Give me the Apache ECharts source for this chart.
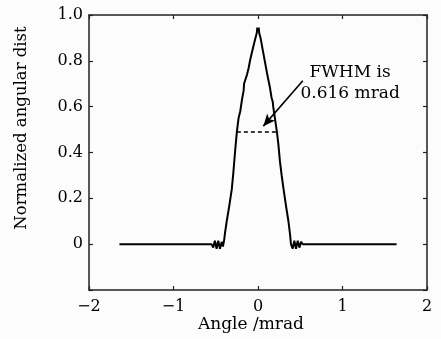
<!DOCTYPE html>
<html>
<head>
<meta charset="utf-8">
<script src="https://cdn.jsdelivr.net/npm/echarts@6/dist/echarts.min.js"></script>
<style>
  html, body { margin: 0; padding: 0; background: #fcfcfc; }
  #chart { width: 441px; height: 339px; }
</style>
</head>
<body>
<div id="chart"></div>
<script>
// angle (mrad) / normalized value
const angle = [
  -1.64, -0.55, -0.53, -0.51, -0.49, -0.47, -0.45, -0.43, -0.415,
  -0.40, -0.39, -0.37, -0.34, -0.31, -0.29, -0.27, -0.25, -0.23,
  -0.21, -0.19, -0.17, -0.165, -0.13, -0.11, -0.095, -0.07, -0.05, -0.03,
  -0.015, -0.008, 0.0, 0.008, 0.015, 0.03, 0.05, 0.08, 0.11, 0.14, 0.16,
  0.175, 0.18, 0.20, 0.22, 0.24, 0.26, 0.28, 0.30, 0.33, 0.36, 0.38,
  0.39, 0.41, 0.43, 0.45, 0.47, 0.49, 0.51, 0.53, 1.64
];
const dist = [
  0, 0, -0.015, 0.015, -0.02, 0.015, -0.02, 0.01, -0.01,
  0.02, 0.05, 0.10, 0.167, 0.24, 0.32, 0.41, 0.49, 0.55,
  0.58, 0.63, 0.67, 0.70, 0.74, 0.77, 0.80, 0.84, 0.87, 0.90,
  0.92, 0.945, 0.93, 0.945, 0.92, 0.90, 0.86, 0.80, 0.74, 0.686, 0.64,
  0.62, 0.60, 0.55, 0.50, 0.44, 0.36, 0.30, 0.247, 0.17, 0.10, 0.04,
  0.0, -0.02, 0.015, -0.02, 0.015, -0.015, 0.01, 0, 0
];
const xTicks = [-2, -1, 0, 1, 2];
const yTicks = [0, 0.2, 0.4, 0.6, 0.8, 1.0];
const fwhmLine = [[-0.25, 0.49], [0.25, 0.49]];
const arrowLine = [[0.53, 0.713], [0.063, 0.515]];
const noteText = 'FWHM is\n0.616 mrad';
const notePos = [1.09, 0.705];

const font = 'DejaVu Serif';
const ink = '#000';

const chart = echarts.init(document.getElementById('chart'));

const fmtX = v => (xTicks.includes(v) ? String(v).replace('-', '\u2212') : '');
const fmtY = v => {
  if (v < -0.01) return '';
  return Math.abs(v) < 1e-9 ? '0' : v.toFixed(1);
};

const axisCommon = {
  axisLine: { show: true, onZero: false, lineStyle: { color: '#222', width: 1.5 } },
  axisTick: { show: true, inside: true, length: 4, lineStyle: { color: '#222', width: 1.2 } },
  splitLine: { show: false }
};

chart.setOption({
  backgroundColor: '#fcfcfc',
  animation: false,
  grid: { left: 89, right: 14, top: 15, bottom: 49 },
  xAxis: [
    Object.assign({
      type: 'value', min: -2, max: 2, interval: 1, position: 'bottom',
      axisLabel: { color: ink, fontFamily: font, fontSize: 16, margin: 9, formatter: fmtX }
    }, axisCommon),
    Object.assign({
      type: 'value', min: -2, max: 2, interval: 1, position: 'top',
      axisLabel: { show: false }
    }, axisCommon)
  ],
  yAxis: [
    Object.assign({
      type: 'value', min: -0.2, max: 1.0, interval: 0.2, position: 'left',
      axisLabel: { color: ink, fontFamily: font, fontSize: 16, margin: 6, formatter: fmtY }
    }, axisCommon),
    Object.assign({
      type: 'value', min: -0.2, max: 1.0, interval: 0.2, position: 'right',
      axisLabel: { show: false }
    }, axisCommon)
  ],
  graphic: [
    {
      type: 'text', x: 251, y: 325,
      style: { text: 'Angle /mrad', fill: ink, font: '17px "' + font + '"', align: 'center', verticalAlign: 'middle' }
    },
    {
      type: 'text', x: 22, y: 128, rotation: Math.PI / 2,
      style: { text: 'Normalized angular dist', fill: ink, font: '16.5px "' + font + '"', align: 'center', verticalAlign: 'middle' }
    }
  ],
  series: [
    {
      type: 'line',
      data: angle.map((a, i) => [a, dist[i]]),
      showSymbol: false,
      lineStyle: { color: ink, width: 2 },
      markLine: {
        silent: true,
        animation: false,
        symbol: ['none', 'none'],
        label: { show: false },
        data: [
          [
            { coord: fwhmLine[0], lineStyle: { type: [4, 3], color: ink, width: 1.5 } },
            { coord: fwhmLine[1] }
          ],
          [
            { coord: arrowLine[0], symbol: 'none', lineStyle: { type: 'solid', color: ink, width: 1.6 } },
            { coord: arrowLine[1], symbol: 'arrow', symbolSize: [8, 12] }
          ]
        ]
      }
    },
    {
      type: 'scatter',
      data: [notePos],
      symbolSize: 0,
      silent: true,
      itemStyle: { opacity: 1 },
      label: {
        show: true, position: 'inside', formatter: noteText,
        color: ink, textBorderWidth: 0, fontFamily: font, fontSize: 17, lineHeight: 21, align: 'center'
      }
    }
  ]
});
</script>
</body>
</html>
